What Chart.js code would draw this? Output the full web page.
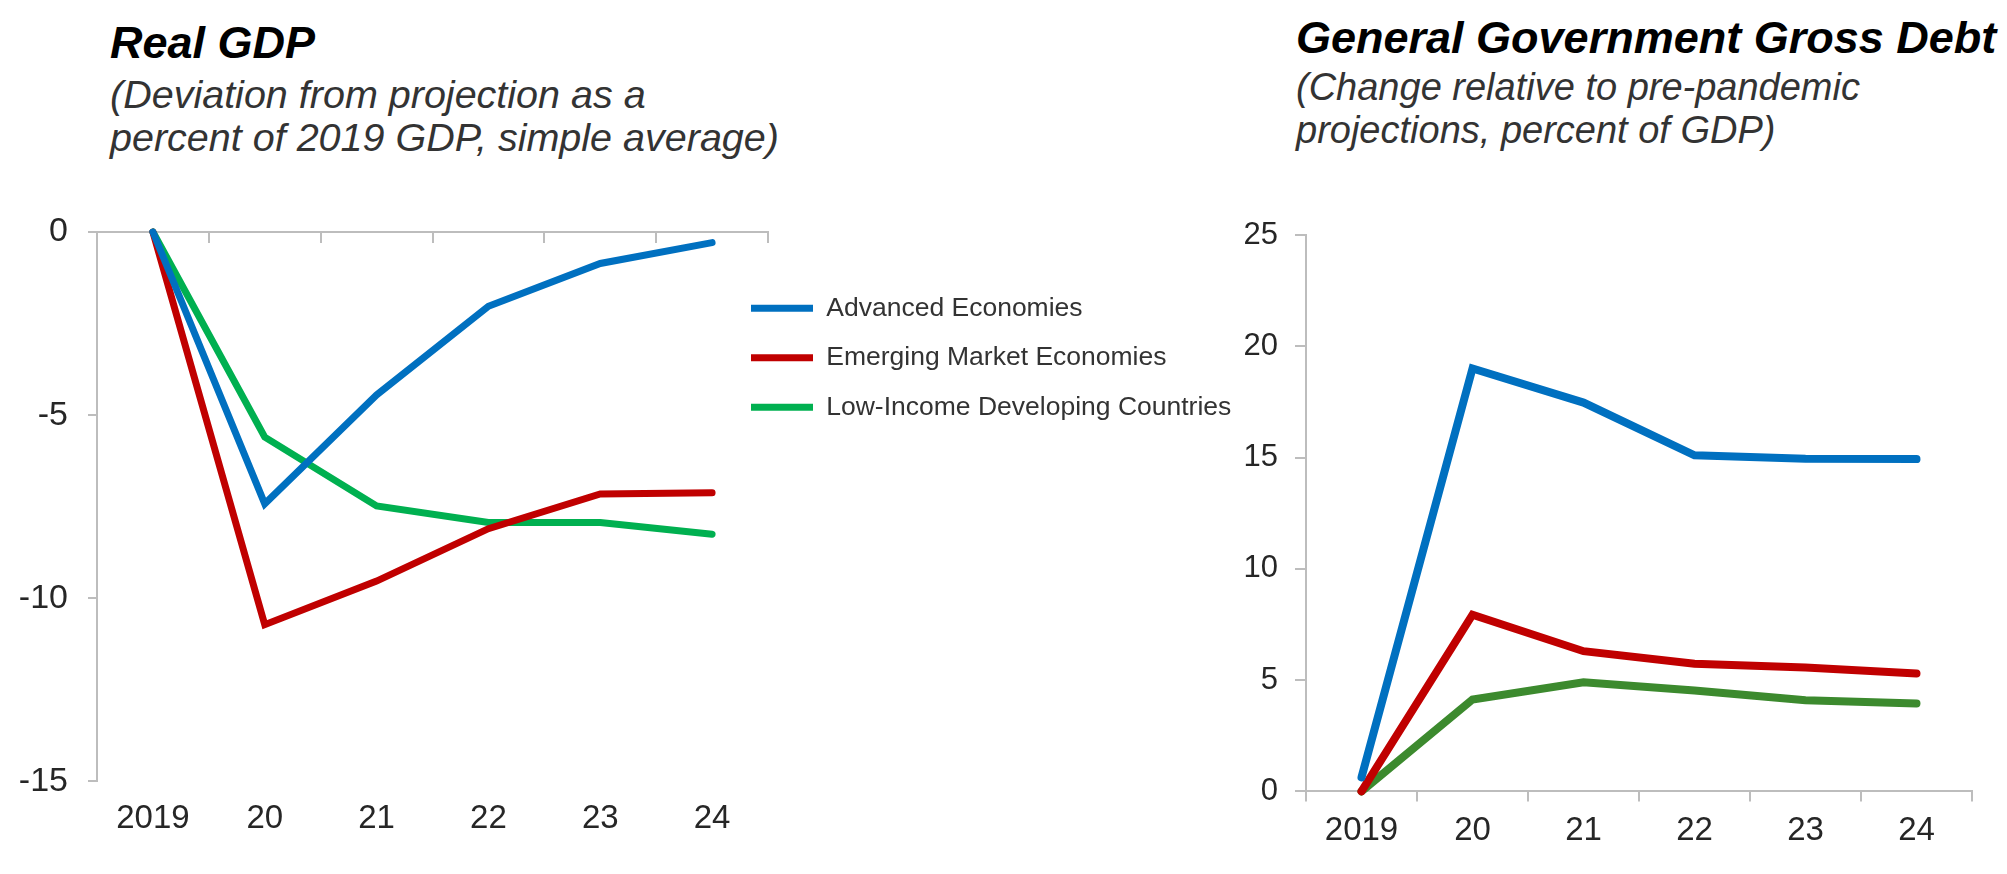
<!DOCTYPE html>
<html>
<head>
<meta charset="utf-8">
<script src="https://cdn.jsdelivr.net/npm/chart.js@4/dist/chart.umd.min.js"></script>
<style>
    body { margin: 0; width: 2007px; height: 874px; background: #fff; position: relative; overflow: hidden; font-family: 'Liberation Sans', Arial, sans-serif; }
    canvas { position: absolute; top: 0; }
    #gdpCanvas { left: 0; }
    #debtCanvas { left: 1230px; }
    .chart-title { position: absolute; font-size: 45px; line-height: 45px; font-weight: bold; font-style: italic; color: #000; white-space: nowrap; }
    .chart-sub { position: absolute; font-style: italic; color: #333; white-space: nowrap; }
</style>
</head>
<body>
<div class="chart-title" style="left:110px; top:20px;">Real GDP</div>
<div class="chart-sub" style="left:110px; top:73px; font-size:39.5px; line-height:43px;">(Deviation from projection as a<br>percent of 2019 GDP, simple average)</div>
<div class="chart-title" style="left:1296px; top:15px;">General Government Gross Debt</div>
<div class="chart-sub" style="left:1296px; top:66px; font-size:38px; line-height:43px;">(Change relative to pre-pandemic<br>projections, percent of GDP)</div>

<canvas id="gdpCanvas" width="1250" height="874"></canvas>
<canvas id="debtCanvas" width="777" height="874"></canvas>

<script>
const years = ["2019", "20", "21", "22", "23", "24"];
const seriesNames = ["Advanced Economies", "Emerging Market Economies", "Low-Income Developing Countries"];

// Real GDP, deviation from projection (% of 2019 GDP)
const gdpAdvanced = [0, -7.42, -4.45, -2.03, -0.86, -0.29];
const gdpEmerging = [0, -10.72, -9.53, -8.10, -7.15, -7.12];
const gdpLowIncome = [0, -5.60, -7.48, -7.93, -7.93, -8.25];

// General government gross debt, change vs pre-pandemic (% of GDP)
const debtAdvanced = [0.63, 19.0, 17.47, 15.10, 14.95, 14.93];
const debtEmerging = [0, 7.94, 6.30, 5.74, 5.57, 5.30];
const debtLowIncome = [0, 4.13, 4.90, 4.53, 4.10, 3.95];

const gdpTicks = [0, -5, -10, -15];
const debtTicks = [0, 5, 10, 15, 20, 25];

const BLUE = "#0070C0";
const RED = "#C00000";
const GREEN = "#00B050";
const DARK_GREEN = "#3C8A2E";
const AXIS_GREY = "#BDBDBD";
const TEXT = "#262626";
const FONT = "'Liberation Sans', Arial, sans-serif";

Chart.defaults.font.family = FONT;
Chart.defaults.color = TEXT;

function lineSet(label, data, color, width){
    return {
        label: label,
        data: data,
        borderColor: color,
        backgroundColor: color,
        borderWidth: width,
        borderCapStyle: "round",
        pointRadius: 0,
        pointHoverRadius: 0,
        tension: 0,
        fill: false,
        clip: false
    };
}

// put the legend to the right of the plot, overlapping the axis end a little like the original
const legendSpot = {
    id: "legendSpot",
    afterLayout(chart){
        const lg = chart.legend;
        if(!lg) return;
        lg.left = 728;
        lg.top = 272;
        lg.right = 1250;
        lg.bottom = 470;
    }
};

new Chart(document.getElementById("gdpCanvas"), {
    type: "line",
    data: {
        labels: years,
        datasets: [
            lineSet(seriesNames[0], gdpAdvanced, BLUE, 7),
            lineSet(seriesNames[1], gdpEmerging, RED, 7),
            lineSet(seriesNames[2], gdpLowIncome, GREEN, 7)
        ]
    },
    options: {
        responsive: false,
        animation: false,
        devicePixelRatio: 1,
        layout: { padding: { left: 0, top: 232, right: 482, bottom: 17 } },
        plugins: {
            title: { display: false },
            tooltip: { enabled: false },
            legend: {
                position: "chartArea",
                align: "start",
                labels: {
                    usePointStyle: true,
                    pointStyle: "line",
                    pointStyleWidth: 62,
                    padding: 23,
                    color: "#333",
                    font: { size: 26.5, family: FONT }
                }
            }
        },
        scales: {
            x: {
                type: "category",
                position: "bottom",
                offset: true,
                border: { display: false },
                grid: { display: false, drawTicks: false },
                ticks: { padding: 18, font: { size: 33 }, color: TEXT, maxRotation: 0 }
            },
            xZero: {
                type: "category",
                axis: "x",
                position: { y: 0 },
                offset: true,
                border: { display: true, color: AXIS_GREY, width: 2 },
                grid: { offset: true, drawOnChartArea: false, drawTicks: true, tickLength: 10, color: AXIS_GREY, lineWidth: 2 },
                ticks: { display: false }
            },
            y: {
                min: -15,
                max: 0,
                afterFit: (scale)=>{ scale.width = 97; },
                afterBuildTicks: (scale)=>{ scale.ticks = gdpTicks.map(v => ({ value: v })); },
                border: { display: true, color: AXIS_GREY, width: 2 },
                grid: { drawOnChartArea: false, drawTicks: true, tickLength: 9, color: AXIS_GREY, lineWidth: 2 },
                ticks: { padding: 20, font: { size: 34 }, color: TEXT }
            }
        }
    },
    plugins: [legendSpot]
});

new Chart(document.getElementById("debtCanvas"), {
    type: "line",
    data: {
        labels: years,
        datasets: [
            lineSet(seriesNames[0], debtAdvanced, BLUE, 8),
            lineSet(seriesNames[1], debtEmerging, RED, 8),
            lineSet(seriesNames[2], debtLowIncome, DARK_GREEN, 8)
        ]
    },
    options: {
        responsive: false,
        animation: false,
        devicePixelRatio: 1,
        layout: { padding: { left: 0, top: 235, right: 35, bottom: 13 } },
        plugins: {
            title: { display: false },
            tooltip: { enabled: false },
            legend: { display: false }
        },
        scales: {
            x: {
                type: "category",
                position: "bottom",
                offset: true,
                border: { display: true, color: AXIS_GREY, width: 2 },
                grid: { offset: true, drawOnChartArea: false, drawTicks: true, tickLength: 10, color: AXIS_GREY, lineWidth: 2 },
                ticks: { padding: 10, font: { size: 33 }, color: TEXT, maxRotation: 0 }
            },
            y: {
                min: 0,
                max: 25,
                afterFit: (scale)=>{ scale.width = 76; },
                afterBuildTicks: (scale)=>{ scale.ticks = debtTicks.map(v => ({ value: v })); },
                border: { display: true, color: AXIS_GREY, width: 2 },
                grid: { drawOnChartArea: false, drawTicks: true, tickLength: 11, color: AXIS_GREY, lineWidth: 2 },
                ticks: { padding: 17, font: { size: 31 }, color: TEXT }
            }
        }
    }
});
</script>
</body>
</html>
